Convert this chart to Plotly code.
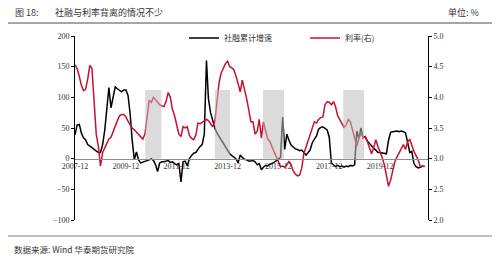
import plotly.graph_objects as go
import pandas as pd

# ---- data (monthly, starting 2007-12) ----
start_month = "2007-12-01"
social_financing_growth = [
    39, 55, 56, 42, 34, 31, 23, 21, 18, 15,
    13, 10, 10, 23, 47, 80, 116, 83, 99, 117,
    114, 111, 109, 112, 112, 103, 72, 31, -2, 11,
    -2, -7, -6, -5, -4, -2, 0, -3, -10, -21,
    -7, -5, -5, -4, -3, -6, -5, -8, -10, -8,
    -38, -5, -4, -12, 0, 5, 9, 10, 16, 20,
    23, 40, 160, 98, 75, 62, 50, 42, 36, 31,
    25, 19, 13, 8, 5, 3, 0, -7, 6, 2,
    -1, -2, -4, -4, -3, -5, -10, -8, -18, -14,
    -11, -12, -9, -8, -6, -4, -1, 2, 68, 15,
    40, 30, 22, 19, 16, 15, 13, 14, 10, 6,
    10, 14, 26, 32, 37, 48, 51, 52, 50, 47,
    35, -7, -10, -13, -11, -13, -12, -14, -12, -13,
    -11, -12, -10, 45, 33, 50, 34, 36, 29, 25,
    20, 17, 14, 10, 10, 9, 8, 8, 30, 43,
    44, 45, 45, 44, 45, 44, 42, 26, 10, 12,
    -8, -13, -15, -14, -12, -13,
]
interest_rate = [
    4.53, 4.47, 4.34, 4.20, 4.11, 4.13, 4.30, 4.52, 4.47, 3.95,
    3.40, 3.20, 2.88, 3.10, 3.18, 3.26, 3.32, 3.35, 3.45, 3.52,
    3.62, 3.70, 3.72, 3.72, 3.68, 3.61, 3.55, 3.50, 3.47, 3.43,
    3.39, 3.35, 3.32, 3.40, 3.68, 3.95, 3.92, 4.00, 3.96, 3.92,
    3.88, 3.86, 3.85, 3.93, 4.08, 4.00, 3.80, 3.70, 3.55, 3.40,
    3.36, 3.52, 3.50, 3.52, 3.38, 3.33, 3.31, 3.38, 3.58, 3.57,
    3.59, 3.62, 3.64, 3.62, 3.57, 3.52, 3.60, 3.95, 4.24, 4.40,
    4.48, 4.55, 4.59, 4.50, 4.48, 4.45, 4.35, 4.20, 4.09, 4.28,
    4.15, 3.98, 3.80, 3.60, 3.60, 3.40, 3.45, 3.64, 3.34, 3.60,
    3.45, 3.32, 3.28, 3.18, 3.11, 3.03, 2.95, 2.87, 2.88, 2.86,
    2.90, 2.96, 2.90, 2.80, 2.75, 2.72, 2.73, 2.85, 3.08, 3.18,
    3.28, 3.40, 3.50, 3.60, 3.58, 3.64, 3.67, 3.68, 3.88, 3.93,
    3.92, 3.88, 3.93, 3.85, 3.70, 3.63, 3.58, 3.51, 3.55, 3.64,
    3.60, 3.47, 3.31, 3.20, 3.34, 3.42, 3.34, 3.36, 3.28, 3.18,
    3.08, 3.18, 3.31, 3.20, 3.12, 3.02, 2.90, 2.72, 2.55, 2.65,
    2.82, 2.95, 3.03, 3.10, 3.15, 3.23, 3.15, 3.28, 3.31, 3.20,
    3.12, 3.05, 2.98, 2.87, 2.87, 2.88,
]
tick_dates = ["2007-12-01", "2009-12-01", "2011-12-01", "2013-12-01",
              "2015-12-01", "2017-12-01", "2019-12-01"]
tick_labels = ["2007-12", "2009-12", "2011-12", "2013-12",
               "2015-12", "2017-12", "2019-12"]
shade_starts = ["2010-09-05", "2013-06-01", "2015-04-25", "2018-06-20"]
shade_ends = ["2011-04-25", "2014-01-05", "2016-02-20", "2019-04-15"]
shade_top = 112

dates = pd.date_range(start_month, periods=len(interest_rate), freq="MS")

# ---- layout geometry ----
W, H = 500, 262
L, R, T, B = 75, 72, 36, 42
pw, ph = W - L - R, H - T - B


def px2x(px):
    return (px - L) / pw


def py2y(py):
    return (H - B - py) / ph


SERIF = "Liberation Serif, Times New Roman, serif"
CJK = "Noto Sans CJK SC, sans-serif"

fig = go.Figure()
fig.add_trace(go.Scatter(
    x=dates, y=social_financing_growth, name="社融累计增速", mode="lines",
    line=dict(color="#000000", width=1.5), yaxis="y"))
fig.add_trace(go.Scatter(
    x=dates, y=interest_rate, name="利率(右)", mode="lines",
    line=dict(color="#c8102e", width=1.5), yaxis="y2"))

shapes = []
for s, e in zip(shade_starts, shade_ends):
    shapes.append(dict(type="rect", xref="x", yref="y", x0=s, x1=e, y0=0, y1=shade_top,
                       fillcolor="rgba(190,190,190,0.55)", line=dict(width=0), layer="above"))
# title rule and bottom rule
shapes.append(dict(type="line", xref="paper", yref="paper", x0=px2x(8), x1=px2x(492),
                   y0=py2y(23), y1=py2y(23), line=dict(color="#a6a6a6", width=2)))
shapes.append(dict(type="line", xref="paper", yref="paper", x0=px2x(8), x1=px2x(492),
                   y0=py2y(236), y1=py2y(236), line=dict(color="#bfbfbf", width=2)))

annotations = [
    dict(text="图 18:", x=px2x(13), y=py2y(12), xref="paper", yref="paper",
         xanchor="left", yanchor="middle", showarrow=False,
         font=dict(family=CJK, size=9, color="#333333")),
    dict(text="社融与利率背离的情况不少", x=px2x(53), y=py2y(12), xref="paper", yref="paper",
         xanchor="left", yanchor="middle", showarrow=False,
         font=dict(family=CJK, size=9, color="#333333")),
    dict(text="单位: %", x=px2x(481), y=py2y(12), xref="paper", yref="paper",
         xanchor="right", yanchor="middle", showarrow=False,
         font=dict(family=CJK, size=9, color="#333333")),
    dict(text="数据来源: Wind 华泰期货研究院", x=px2x(12), y=py2y(249), xref="paper", yref="paper",
         xanchor="left", yanchor="middle", showarrow=False,
         font=dict(family=CJK, size=8.5, color="#333333")),
]

fig.update_layout(
    width=W, height=H,
    margin=dict(l=L, r=R, t=T, b=B, pad=0),
    paper_bgcolor="white", plot_bgcolor="white",
    shapes=shapes, annotations=annotations,
    showlegend=True,
    legend=dict(orientation="h", x=px2x(184), y=py2y(38), xanchor="left", yanchor="middle",
                font=dict(family=CJK, size=8, color="#333333"), bgcolor="rgba(0,0,0,0)",
                itemwidth=30, tracegroupgap=0, entrywidth=76, entrywidthmode="pixels"),
    xaxis=dict(
        type="date", range=["2007-12-01", "2021-10-20"],
        tickvals=tick_dates, ticktext=tick_labels,
        anchor="free", position=1 / 3, side="bottom",
        showline=True, linecolor="#8c8c8c", linewidth=1,
        showgrid=False, zeroline=False, ticks="",
        tickfont=dict(family=SERIF, size=8, color="#333333"),
    ),
    yaxis=dict(
        range=[-100, 200], dtick=50, showgrid=False, zeroline=False,
        showline=True, linecolor="#000000", linewidth=1,
        ticks="outside", ticklen=3, tickcolor="#000000",
        tickfont=dict(family=SERIF, size=8, color="#333333"),
    ),
    yaxis2=dict(
        range=[2.0, 5.0], dtick=0.5, tickformat=".1f", overlaying="y", side="right",
        showgrid=False, zeroline=False,
        showline=True, linecolor="#000000", linewidth=1,
        ticks="outside", ticklen=3, tickcolor="#000000",
        tickfont=dict(family=SERIF, size=8, color="#333333"),
    ),
)

fig.write_html("out.html")
